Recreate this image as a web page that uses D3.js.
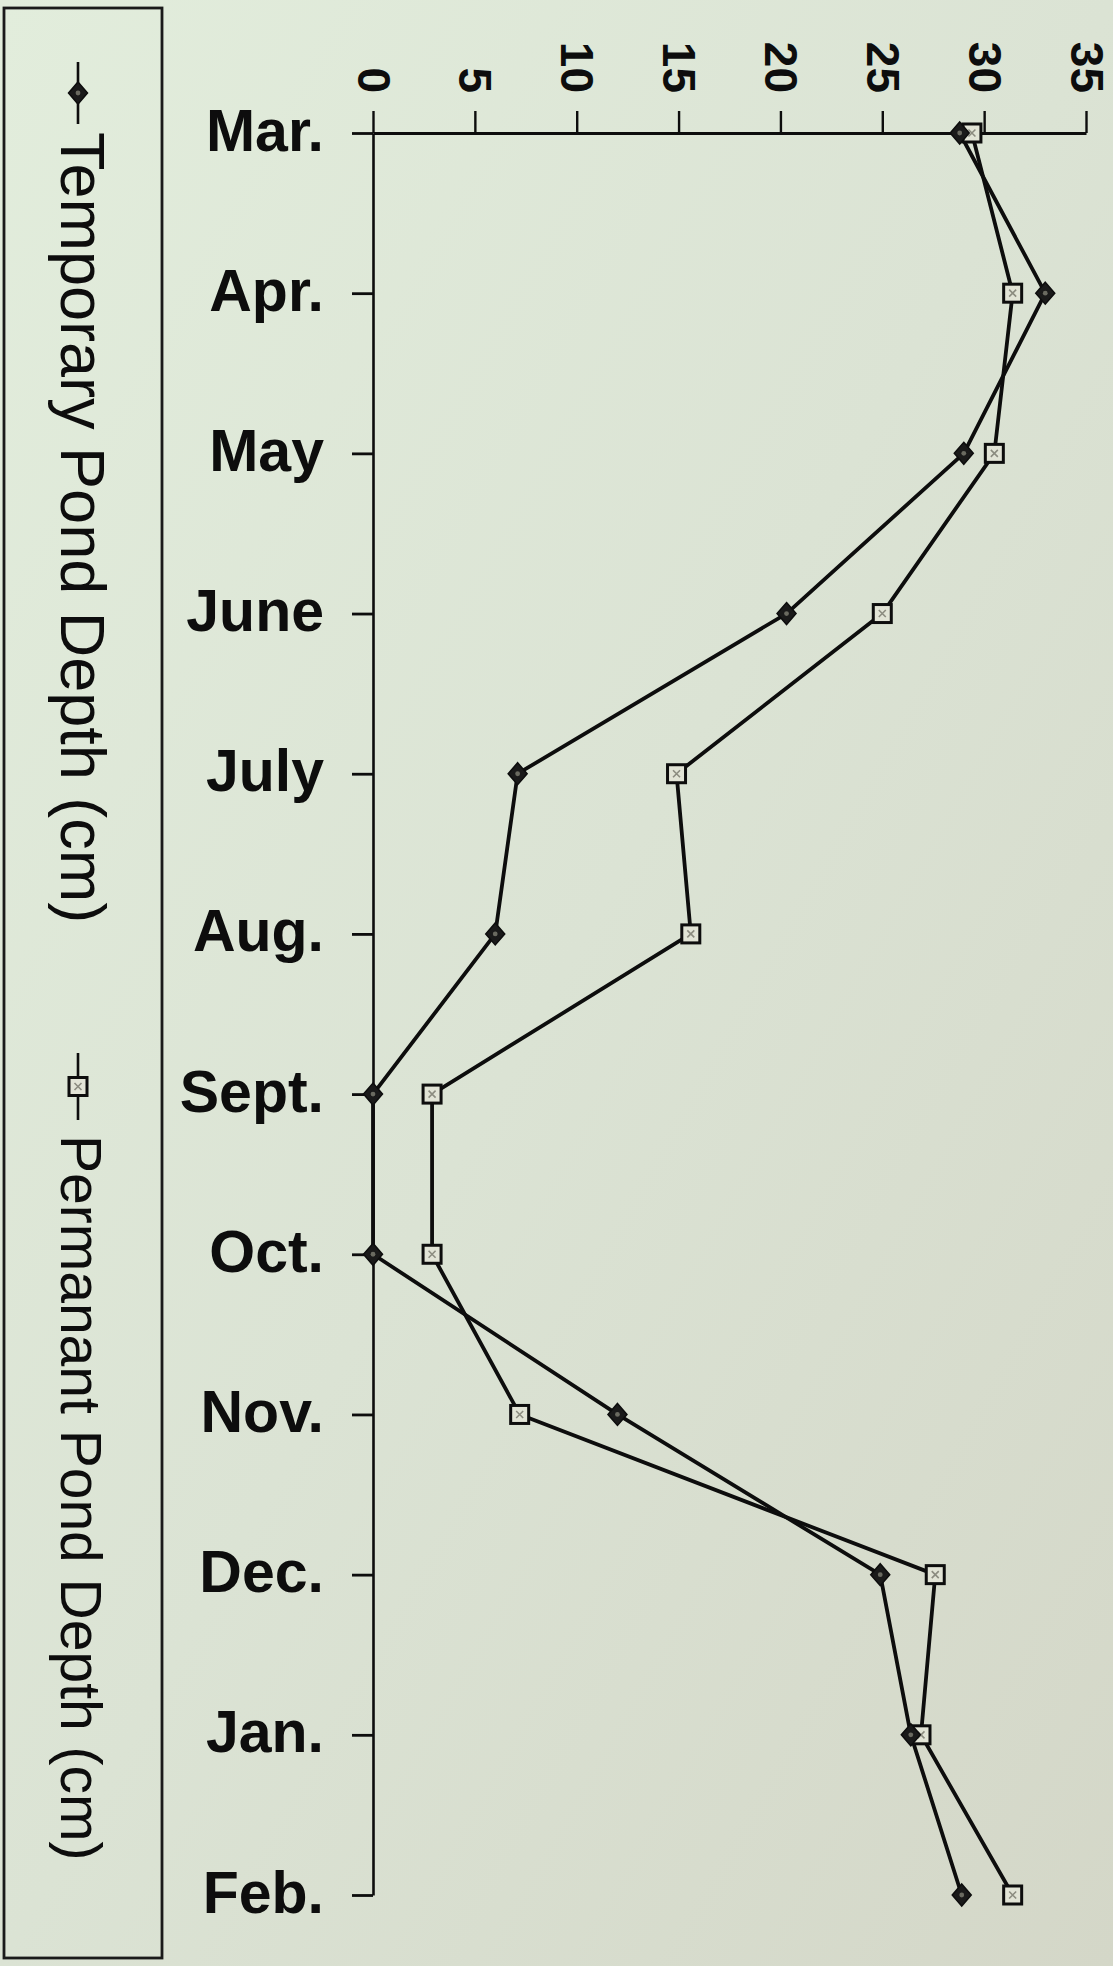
<!DOCTYPE html>
<html>
<head>
<meta charset="utf-8">
<script src="https://cdn.jsdelivr.net/npm/d3@7"></script>
<style>
  html, body { margin: 0; padding: 0; background: #dde6d6; }
  svg { display: block; }
</style>
</head>
<body>
<svg id="chart" width="1113" height="1966"></svg>
<script>
// Monthly pond depth (cm), March through February
const months = ["Mar.", "Apr.", "May", "June", "July", "Aug.", "Sept.", "Oct.", "Nov.", "Dec.", "Jan.", "Feb."];
const temporaryDepth = [28.8, 33.0, 29.0, 20.3, 7.1, 6.0, 0, 0, 12.0, 24.9, 26.4, 28.9];
const permanentDepth = [29.4, 31.4, 30.5, 25.0, 14.9, 15.6, 2.9, 2.9, 7.2, 27.6, 26.9, 31.4];
const depthTicks = [0, 5, 10, 15, 20, 25, 30, 35];
const seriesNames = ["Temporary Pond Depth (cm)", "Permanant Pond Depth (cm)"];

const W = 1113, H = 1966;
const svg = d3.select("#chart");
const ink = "#0d0d0d";
const font = "'Liberation Sans', Arial, sans-serif";

// paper background
const defs = svg.append("defs");
const grad = defs.append("linearGradient").attr("id", "paper")
  .attr("x1", "0").attr("y1", "0").attr("x2", "1").attr("y2", "1");
grad.append("stop").attr("offset", "0").attr("stop-color", "#e2eddc");
grad.append("stop").attr("offset", "0.5").attr("stop-color", "#dbe3d4");
grad.append("stop").attr("offset", "1").attr("stop-color", "#d4d7c8");
svg.append("rect").attr("width", W).attr("height", H).attr("fill", "url(#paper)");

// scales: depth runs left to right, months top to bottom
const x = d3.scaleLinear().domain([0, 35]).range([373, 1086]);
const y = d3.scalePoint().domain(months).range([133, 1895]);

// depth axis along the top
const xAxis = svg.append("g")
  .attr("transform", `translate(0,${y(months[0])})`)
  .call(d3.axisTop(x).tickValues(depthTicks).tickSize(22).tickSizeOuter(0).tickFormat(d3.format("d")));
xAxis.select(".domain").attr("stroke", ink).attr("stroke-width", 3.2);
xAxis.selectAll(".tick line").attr("stroke", ink).attr("stroke-width", 2.4);
xAxis.selectAll(".tick text")
  .attr("fill", ink)
  .attr("font-family", font)
  .attr("font-weight", "bold")
  .attr("font-size", 46)
  .attr("text-anchor", "end")
  .attr("x", null).attr("y", null).attr("dy", null)
  .attr("transform", "translate(-16,-40) rotate(90)");

// month axis along the left
const yAxis = svg.append("g")
  .attr("transform", `translate(${x(0)},0)`)
  .call(d3.axisLeft(y).tickSize(21).tickSizeOuter(0).tickPadding(28));
yAxis.select(".domain").attr("stroke", ink).attr("stroke-width", 2.6);
yAxis.selectAll(".tick line").attr("stroke", ink).attr("stroke-width", 2.8);
yAxis.selectAll(".tick text")
  .attr("fill", ink)
  .attr("font-family", font)
  .attr("font-weight", "bold")
  .attr("font-size", 59)
  .attr("dy", 17);

// series lines
const line = d3.line().x(d => x(d.v)).y(d => y(d.m));
const asPoints = vals => vals.map((v, i) => ({ m: months[i], v }));
const tempPts = asPoints(temporaryDepth);
const permPts = asPoints(permanentDepth);

[permPts, tempPts].forEach(pts => {
  svg.append("path").datum(pts).attr("d", line)
    .attr("fill", "none").attr("stroke", ink).attr("stroke-width", 3.8).attr("stroke-linejoin", "round");
});

// marker drawing helpers
function diamond(g, cx, cy) {
  g.append("path")
    .attr("d", `M${cx},${cy - 11}L${cx + 9.5},${cy}L${cx},${cy + 11}L${cx - 9.5},${cy}Z`)
    .attr("fill", "#1a1a1a").attr("stroke", ink).attr("stroke-width", 1.5);
  g.append("circle").attr("cx", cx).attr("cy", cy).attr("r", 2.4).attr("fill", "#6a6a60");
}
function square(g, cx, cy) {
  g.append("rect").attr("x", cx - 9).attr("y", cy - 9).attr("width", 18).attr("height", 18)
    .attr("fill", "#e2e4d6").attr("stroke", ink).attr("stroke-width", 3);
  g.append("path")
    .attr("d", `M${cx - 3.5},${cy - 3.5}L${cx + 3.5},${cy + 3.5}M${cx + 3.5},${cy - 3.5}L${cx - 3.5},${cy + 3.5}`)
    .attr("stroke", "#8c8c80").attr("stroke-width", 1.6);
}

const marks = svg.append("g");
permPts.forEach(d => square(marks, x(d.v), y(d.m)));
tempPts.forEach(d => diamond(marks, x(d.v), y(d.m)));

// legend box with vertical entries
const legend = svg.append("g");
legend.append("rect").attr("x", 4).attr("y", 8).attr("width", 158).attr("height", 1950)
  .attr("fill", "none").attr("stroke", "#1a1a1a").attr("stroke-width", 2.8);

const legendEntries = [
  { name: seriesNames[0], lineTop: 62, lineBottom: 124, textStart: 132, size: 63, draw: diamond },
  { name: seriesNames[1], lineTop: 1053, lineBottom: 1120, textStart: 1135, size: 57, draw: square }
];
legendEntries.forEach(e => {
  const lx = 78;
  legend.append("line").attr("x1", lx).attr("x2", lx).attr("y1", e.lineTop).attr("y2", e.lineBottom)
    .attr("stroke", ink).attr("stroke-width", 2.6);
  e.draw(legend, lx, (e.lineTop + e.lineBottom) / 2);
  legend.append("text")
    .attr("transform", `translate(61,${e.textStart}) rotate(90)`)
    .attr("font-family", font)
    .attr("font-size", e.size)
    .attr("fill", ink)
    .text(e.name);
});
</script>
</body>
</html>
